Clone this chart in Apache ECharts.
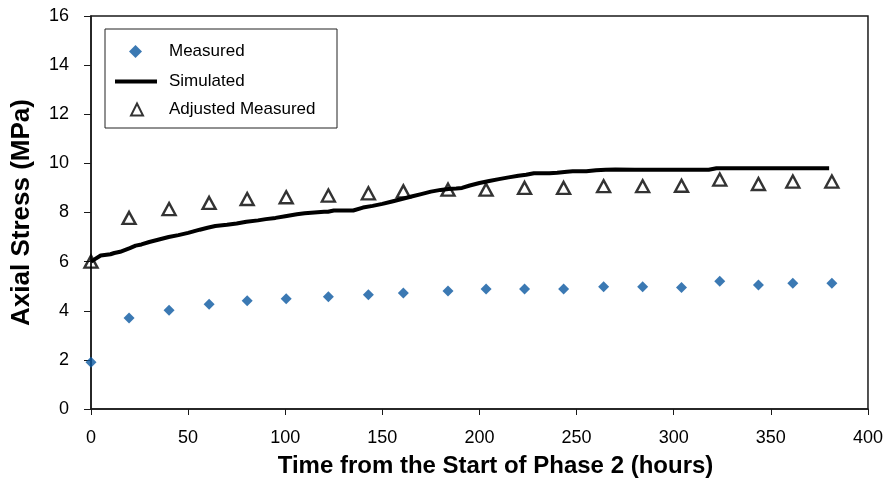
<!DOCTYPE html>
<html>
<head>
<meta charset="utf-8">
<title>Axial Stress vs Time</title>
<script src="https://cdn.jsdelivr.net/npm/echarts@6/dist/echarts.min.js"></script>
<style>
  html, body { margin: 0; padding: 0; background: #ffffff; }
  #chart { width: 886px; height: 486px; }
</style>
</head>
<body>
<div id="chart"></div>
<script>
// Measured / adjusted readings (hours, MPa)
const measuredHours = [0, 19.6, 40.2, 60.8, 80.4, 100.5, 122.2, 142.8, 160.8, 183.8, 203.4, 223.2, 243.3, 263.9, 284, 304, 323.7, 343.6, 361.3, 381.4];
const measuredStress = [1.9, 3.7, 4.02, 4.26, 4.41, 4.49, 4.57, 4.65, 4.72, 4.8, 4.89, 4.89, 4.89, 4.98, 4.98, 4.95, 5.2, 5.05, 5.12, 5.12];
const adjustedStress = [6.0, 7.78, 8.14, 8.39, 8.55, 8.62, 8.69, 8.78, 8.86, 8.93, 8.93, 9.0, 9.0, 9.07, 9.07, 9.09, 9.34, 9.16, 9.26, 9.26];

// Simulated stress curve
const simulatedHours = [0, 2, 5, 10, 12, 15, 20, 23, 26, 30, 35, 40, 45, 50, 56, 60, 64, 70, 75, 80, 86, 90, 95, 100, 106, 110, 115, 120, 122, 125, 130, 135, 140, 145, 150, 155, 160, 165, 170, 175, 180, 184, 188, 191, 195, 200, 205, 210, 215, 220, 224, 228, 232, 236, 240, 245, 248, 255, 260, 265, 270, 280, 290, 300, 310, 318, 322, 326, 340, 360, 380];
const simulatedStress = [6.0, 6.1, 6.25, 6.3, 6.35, 6.4, 6.55, 6.65, 6.7, 6.8, 6.9, 7.0, 7.08, 7.17, 7.3, 7.38, 7.45, 7.5, 7.55, 7.62, 7.68, 7.73, 7.78, 7.85, 7.93, 7.97, 8.0, 8.03, 8.03, 8.08, 8.08, 8.08, 8.2, 8.27, 8.35, 8.45, 8.55, 8.65, 8.75, 8.85, 8.92, 8.96, 8.98, 9.0, 9.1, 9.2, 9.28, 9.36, 9.43, 9.5, 9.54, 9.6, 9.6, 9.6, 9.62, 9.66, 9.68, 9.68, 9.72, 9.74, 9.75, 9.74, 9.74, 9.74, 9.74, 9.74, 9.8, 9.8, 9.8, 9.8, 9.8];

const xTicks = { min: 0, max: 400, interval: 50 };
const yTicks = { min: 0, max: 16, interval: 2 };

const FONT = 'Liberation Sans, Arial, sans-serif';

const zip = (xs, ys) => xs.map((x, i) => [x, ys[i]]);

const chart = echarts.init(document.getElementById('chart'), null, { renderer: 'canvas' });

// One legend block per entry so every key icon keeps its own size;
// the text of all three starts at the same x.
const legendText = (pad) => ({ fontFamily: FONT, fontSize: 17, color: '#000', padding: [0, 0, 0, pad] });

chart.setOption({
  animation: false,
  backgroundColor: '#ffffff',
  grid: {
    left: 91, right: 18, top: 16, bottom: 77,
    show: true, borderColor: '#1a1a1a', borderWidth: 1.5, backgroundColor: 'transparent'
  },
  graphic: [{
    type: 'rect',
    shape: { x: 105, y: 29, width: 232, height: 99 },
    style: { fill: '#ffffff', stroke: '#222', lineWidth: 1 },
    z: 1
  }],
  legend: [
    {
      orient: 'vertical', left: 129, top: 43, padding: 0, selectedMode: false,
      itemWidth: 13, itemHeight: 13,
      textStyle: legendText(22),
      data: ['Measured']
    },
    {
      orient: 'vertical', left: 115, top: 73, padding: 0, selectedMode: false,
      itemWidth: 42, itemHeight: 4,
      textStyle: legendText(7),
      data: [{ name: 'Simulated', icon: 'rect', itemStyle: { color: '#000' } }]
    },
    {
      orient: 'vertical', left: 130, top: 101, padding: 0, selectedMode: false,
      itemWidth: 12, itemHeight: 12,
      textStyle: legendText(21),
      data: ['Adjusted Measured']
    }
  ],
  xAxis: {
    type: 'value',
    min: xTicks.min, max: xTicks.max, interval: xTicks.interval,
    name: 'Time from the Start of Phase 2 (hours)',
    nameLocation: 'middle',
    nameGap: 45,
    nameTextStyle: { fontFamily: FONT, fontSize: 24, fontWeight: 'bold', color: '#000', padding: [0, 0, 0, 32] },
    axisLine: { lineStyle: { color: '#1a1a1a', width: 1.5 } },
    axisTick: { inside: false, length: 6, lineStyle: { color: '#1a1a1a', width: 1 } },
    axisLabel: { fontFamily: FONT, fontSize: 18, color: '#000', margin: 20 },
    splitLine: { show: false }
  },
  yAxis: {
    type: 'value',
    min: yTicks.min, max: yTicks.max, interval: yTicks.interval,
    name: 'Axial Stress (MPa)',
    nameLocation: 'middle',
    nameGap: 56,
    nameTextStyle: { fontFamily: FONT, fontSize: 26, fontWeight: 'bold', color: '#000' },
    axisLine: { show: true, lineStyle: { color: '#1a1a1a', width: 1.5 } },
    axisTick: { show: true, inside: false, length: 7, lineStyle: { color: '#1a1a1a', width: 1 } },
    axisLabel: { fontFamily: FONT, fontSize: 18, color: '#000', margin: 22 },
    splitLine: { show: false }
  },
  series: [
    {
      name: 'Measured',
      type: 'scatter',
      symbol: 'diamond',
      symbolSize: 11,
      itemStyle: { color: '#0a57a0' },
      data: zip(measuredHours, measuredStress),
      z: 3
    },
    {
      name: 'Simulated',
      type: 'line',
      symbol: 'none',
      showSymbol: false,
      lineStyle: { color: '#000', width: 4 },
      itemStyle: { color: '#000' },
      data: zip(simulatedHours, simulatedStress),
      z: 2
    },
    {
      name: 'Adjusted Measured',
      type: 'scatter',
      symbol: 'triangle',
      symbolSize: [13, 12],
      itemStyle: { color: 'rgba(255,255,255,0)', borderColor: '#000', borderWidth: 2.4 },
      data: zip(measuredHours, adjustedStress),
      z: 4
    }
  ]
});
</script>
</body>
</html>
